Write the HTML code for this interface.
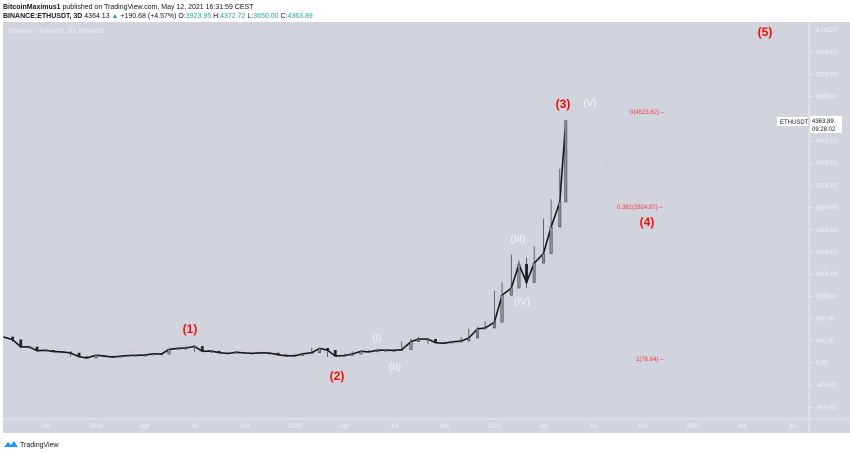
<!DOCTYPE html>
<html><head><meta charset="utf-8"><style>
html,body{margin:0;padding:0;background:#fff;width:850px;height:453px;overflow:hidden;font-family:"Liberation Sans",sans-serif}
svg{display:block}
</style></head><body>
<svg width="850" height="453" viewBox="0 0 850 453">
<text x="3" y="9" font-size="7" fill="#131722"><tspan font-weight="bold">BitcoinMaximus1</tspan> published on TradingView.com, May 12, 2021 16:31:59 CEST</text>
<text x="3" y="18" font-size="7" fill="#131722"><tspan font-weight="bold">BINANCE:ETHUSDT, 3D</tspan> 4364.13 <tspan fill="#26a69a">▲</tspan> +190.68 (+4.57%) O:<tspan fill="#26a69a">3923.95</tspan> H:<tspan fill="#26a69a">4372.72</tspan> L:<tspan fill="#26a69a">3650.00</tspan> C:<tspan fill="#26a69a">4363.89</tspan></text>
<rect x="3" y="22" width="847" height="411" fill="#d1d4dc"/>
<line x1="3" y1="419" x2="850" y2="419" stroke="#e6e8ee" stroke-width="1"/>
<line x1="809" y1="22" x2="809" y2="433" stroke="#e6e8ee" stroke-width="1"/>
<text x="8" y="33" font-size="6" fill="#eef0f4">Ethereum / TetherUS, 3D, BINANCE</text>
<g id="yaxis"></g><g id="xaxis"></g><g id="lines"></g><g id="candles"></g>
<g font-family="Liberation Sans" font-weight="bold" text-anchor="middle">
<text x="190" y="333" font-size="12" fill="#f20d0d">(1)</text>
<text x="337" y="380" font-size="12" fill="#f20d0d">(2)</text>
<text x="563" y="108" font-size="12" fill="#f20d0d">(3)</text>
<text x="647" y="226" font-size="12" fill="#f20d0d">(4)</text>
<text x="765" y="36" font-size="12" fill="#f20d0d">(5)</text>
<text x="377" y="341" font-size="10" fill="#f5f6f8" font-weight="normal">(I)</text>
<text x="395" y="370" font-size="10" fill="#f5f6f8" font-weight="normal">(II)</text>
<text x="518" y="242" font-size="10" fill="#f5f6f8" font-weight="normal">(III)</text>
<text x="522" y="305" font-size="10" fill="#f5f6f8" font-weight="normal">(IV)</text>
<text x="590" y="106" font-size="10" fill="#f5f6f8" font-weight="normal">(V)</text>
</g>
<g font-size="6" fill="#f23645">
<text x="630" y="114">0(4523.62) –</text>
<text x="617" y="209">0.382(2824.87) –</text>
<text x="636" y="361">1(76.64) –</text>
</g>
<rect x="777" y="117" width="31" height="9" fill="#fff"/>
<text x="780" y="124" font-size="6" fill="#131722">ETHUSDT</text>
<rect x="810" y="116" width="32" height="17" fill="#fff"/>
<text x="812" y="123" font-size="6" fill="#131722">4363.89</text>
<text x="812" y="131" font-size="6" fill="#131722">09:28:02</text>
<g>
<path d="M4 447 l4 -5 l3 3 l3 -4 l4 6 z" fill="#2196f3"/>
<text x="20" y="447" font-size="7" fill="#131722">TradingView</text>
</g>
</svg>
<script>
const yTicks=[-800,-400,0,400,800,1200,1600,2000,2400,2800,3200,3600,4000,4800,5200,5600];
const xLabels=["Oct","2019","Apr","Jul","Oct","2020","Apr","Jul","Oct","2021","Apr","Jul","Oct","2022","Apr","Jul"];
const xLabelDays=[-92,0,90,181,273,365,456,547,639,731,821,912,1004,1096,1186,1277];
const priceDays=[-170,-153,-138,-122,-108,-92,-78,-61,-47,-31,-17,0,14,31,45,59,73,90,104,120,134,151,165,181,195,212,226,243,257,273,287,304,318,334,348,365,379,396,410,425,439,456,470,486,500,517,531,547,561,578,592,609,623,639,653,670,684,700,714,731,745,762,776,790,804,821,835,851,862];
const closes=[470,420,290,290,220,230,205,200,180,115,90,140,125,107,122,135,138,142,165,160,245,265,270,300,210,215,185,172,195,180,175,183,180,150,130,130,165,185,265,230,125,135,160,210,200,230,230,228,240,385,430,430,365,355,380,395,450,615,630,735,1220,1350,1780,1450,1800,1970,2450,2900,4364];
const highs=[490,440,320,300,240,240,220,210,195,140,110,150,135,120,128,140,145,170,175,180,260,280,310,320,230,225,195,195,200,195,190,190,185,155,145,165,175,270,275,235,130,170,210,215,235,240,240,245,390,435,470,435,385,390,400,470,620,650,750,1300,1450,1950,1850,1900,2100,2600,2950,3500,4372];
const lows=[450,380,270,260,210,200,195,180,120,90,85,120,105,100,115,128,132,140,155,155,170,245,240,200,200,180,170,168,170,170,172,175,145,125,127,127,160,182,220,110,115,130,158,190,195,220,225,225,235,370,380,340,350,352,375,392,445,560,610,720,1100,1300,1450,1350,1600,1800,2300,2800,3650];
const yv=v=>363-v*0.0555;
const xd=d=>96+d*0.545;
const NS="http://www.w3.org/2000/svg";
function mk(tag,attrs,parent){const e=document.createElementNS(NS,tag);for(const k in attrs)e.setAttribute(k,attrs[k]);document.getElementById(parent).appendChild(e);return e;}
yTicks.forEach(v=>{
 const t=mk('text',{x:816,y:yv(v)+2,'font-size':6,fill:'#f0f2f6'},'yaxis');
 t.textContent=v.toFixed(2);
 
 
 const l=mk('line',{x1:809,x2:812,y1:yv(v),y2:yv(v),stroke:'#eef0f4'},'yaxis');
 
 
});
const u=mk('text',{x:816,y:yv(6000)+2,'font-size':6,fill:'#f0f2f6'},'yaxis');u.textContent='6 USDT';


xLabels.forEach((s,i)=>{
 const t=mk('text',{x:xd(xLabelDays[i]),y:428,'font-size':6,fill:'#f0f2f6','text-anchor':'middle'},'xaxis');
 t.textContent=s;
 
 
});
const waves=[[xd(-20),yv(120)],[xd(175),yv(330)],[xd(441),yv(90)],[xd(862),yv(4523)],[xd(998),yv(2825)],[xd(1240),yv(6000)]];
for(let i=0;i<waves.length-1;i++){
 const l=mk('line',{x1:waves[i][0],y1:waves[i][1],x2:waves[i+1][0],y2:waves[i+1][1],stroke:'#e0a8a8','stroke-width':0.5,opacity:0.45},'lines');
 
 
}
const pts=priceDays.map((d,i)=>xd(d).toFixed(1)+','+yv(closes[i]).toFixed(1)).join(' ');
const pl=mk('polyline',{points:pts,fill:'none',stroke:'#131722','stroke-width':1.6},'candles');


priceDays.forEach((d,i)=>{
 if(i===0)return;
 const x=xd(d),o=closes[i-1],c=closes[i];
 const w=mk('line',{x1:x,x2:x,y1:yv(highs[i]),y2:yv(lows[i]),stroke:'#333','stroke-width':0.7},'candles');
 
 
 const b=mk('rect',{x:x-1.2,width:2.4,y:yv(Math.max(o,c)),height:Math.max(1,Math.abs(yv(o)-yv(c))),fill:c>=o?'#8a8d95':'#222',stroke:'#222','stroke-width':0.4},'candles');
 
 
});
</script>
</body></html>
